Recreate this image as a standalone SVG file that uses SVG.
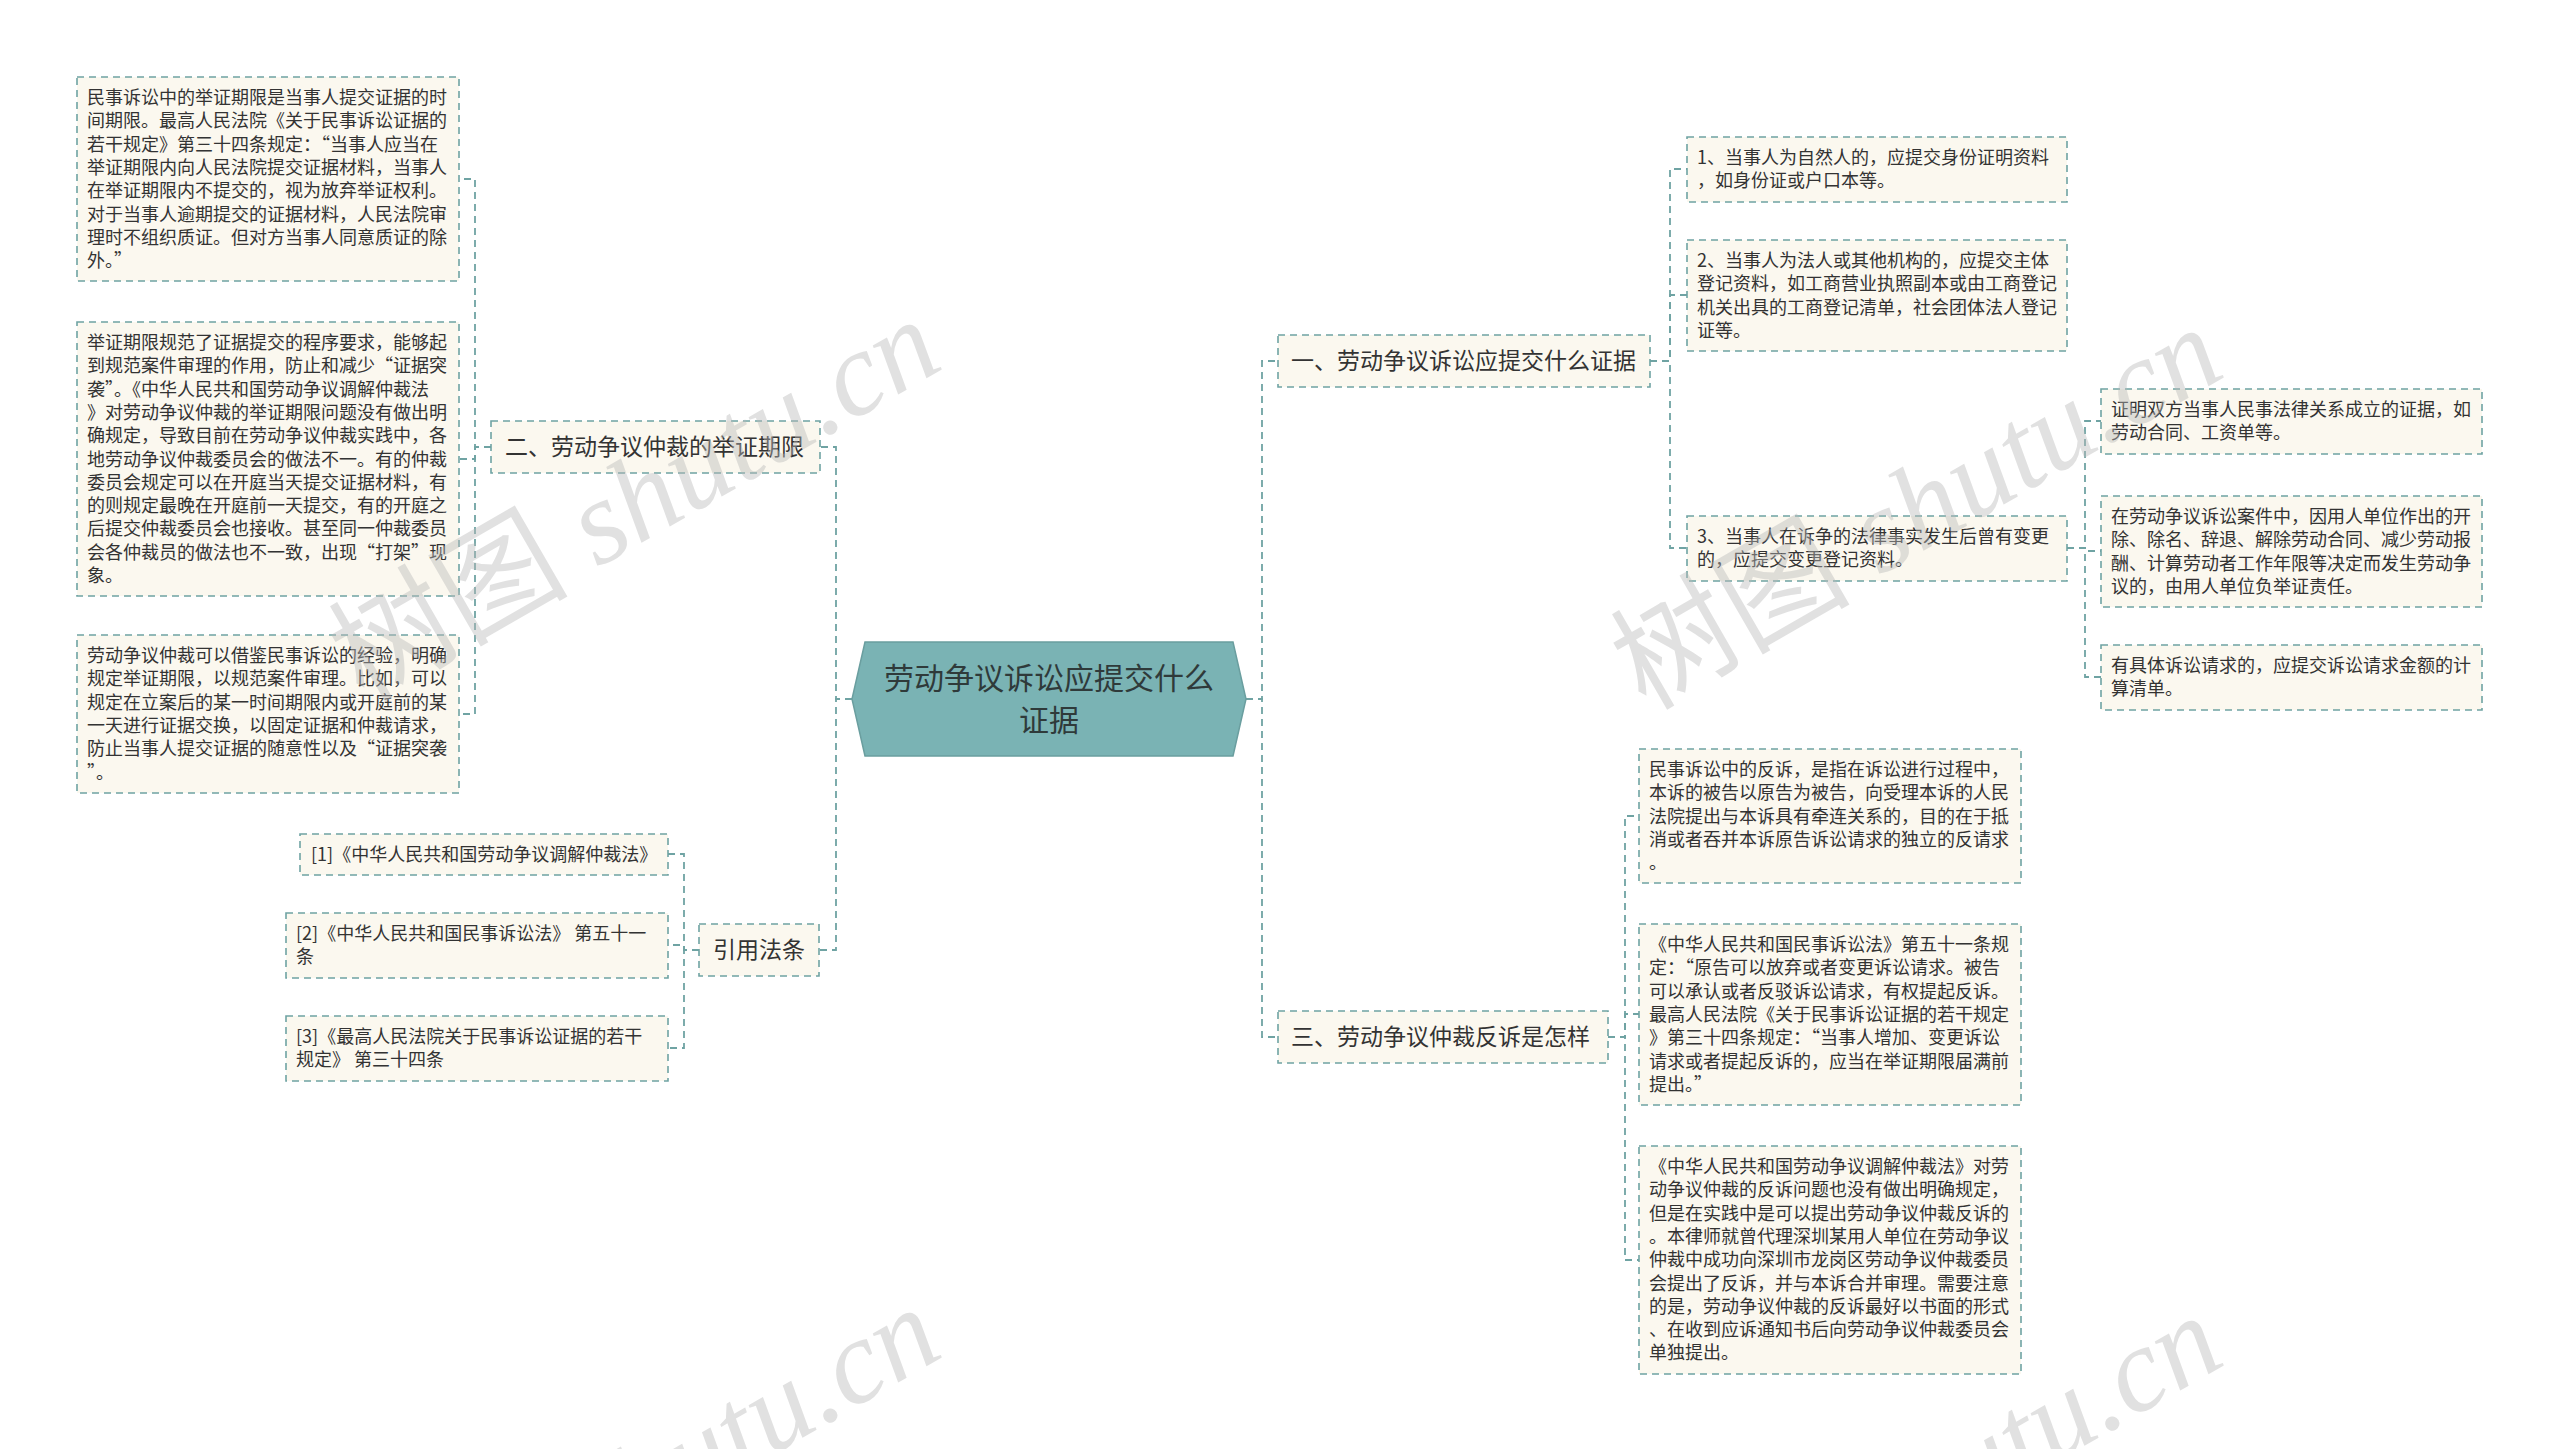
<svg xmlns="http://www.w3.org/2000/svg" width="2560" height="1449" viewBox="0 0 2560 1449">
<style>
.box{fill:#FBF8EF;stroke:#6FA3A3;stroke-width:1.6;stroke-dasharray:7 5}
.conn{fill:none;stroke:#6FA3A3;stroke-width:1.8;stroke-dasharray:7 5}
.t{font-family:"Noto Sans CJK SC","Microsoft YaHei",sans-serif;font-size:18px;fill:#333}
.b{font-size:23px}
.c{font-size:30px;text-anchor:middle;fill:#2F3A3A}
.wm{fill:#B8B8B8;opacity:0.42;font-size:120px}
</style>
<rect width="2560" height="1449" fill="#FFFFFF"/>

<g id="connectors">
<path class="conn" d="M852 699 H836 V447 H820"/>
<path class="conn" d="M852 699 H836 V950 H819"/>
<path class="conn" d="M1246 699 H1262 V361 H1278"/>
<path class="conn" d="M1246 699 H1262 V1037 H1278"/>
<path class="conn" d="M491 447 H475 V179 H459"/>
<path class="conn" d="M491 447 H475 V459 H459"/>
<path class="conn" d="M491 447 H475 V714 H459"/>
<path class="conn" d="M699 950 H684 V854 H668"/>
<path class="conn" d="M699 950 H684 V945 H668"/>
<path class="conn" d="M699 950 H684 V1048 H668"/>
<path class="conn" d="M1650 361 H1670 V169 H1687"/>
<path class="conn" d="M1650 361 H1670 V295 H1687"/>
<path class="conn" d="M1650 361 H1670 V548 H1687"/>
<path class="conn" d="M2067 548 H2085 V421 H2101"/>
<path class="conn" d="M2067 548 H2085 V551 H2101"/>
<path class="conn" d="M2067 548 H2085 V677 H2101"/>
<path class="conn" d="M1608 1037 H1625 V816 H1639"/>
<path class="conn" d="M1608 1037 H1625 V1014 H1639"/>
<path class="conn" d="M1608 1037 H1625 V1260 H1639"/>
</g>

<g id="center">
<polygon points="865,642 1233,642 1246,699 1233,756 865,756 852,699" fill="#7AB3B4" stroke="#6A9E9F" stroke-width="1.5"/>
<text class="t c" x="1049" y="689">劳动争议诉讼应提交什么</text>
<text class="t c" x="1049" y="731">证据</text>
</g>

<g id="branch2">
<rect class="box" x="491" y="421" width="329" height="52"/>
<text class="t b" x="505" y="455">二、劳动争议仲裁的举证期限</text>
</g>
<g id="branchRef">
<rect class="box" x="699" y="924" width="120" height="52"/>
<text class="t b" x="713" y="958">引用法条</text>
</g>
<g id="branch1">
<rect class="box" x="1278" y="335" width="372" height="52"/>
<text class="t b" x="1291" y="369">一、劳动争议诉讼应提交什么证据</text>
</g>
<g id="branch3">
<rect class="box" x="1278" y="1011" width="330" height="52"/>
<text class="t b" x="1291" y="1045">三、劳动争议仲裁反诉是怎样</text>
</g>

<g id="L1">
<rect class="box" x="77" y="77" width="382" height="204"/>
<text class="t" x="87" y="104">民事诉讼中的举证期限是当事人提交证据的时</text>
<text class="t" x="87" y="127.3">间期限。最高人民法院《关于民事诉讼证据的</text>
<text class="t" x="87" y="150.6">若干规定》第三十四条规定：“当事人应当在</text>
<text class="t" x="87" y="173.9">举证期限内向人民法院提交证据材料，当事人</text>
<text class="t" x="87" y="197.2">在举证期限内不提交的，视为放弃举证权利。</text>
<text class="t" x="87" y="220.5">对于当事人逾期提交的证据材料，人民法院审</text>
<text class="t" x="87" y="243.8">理时不组织质证。但对方当事人同意质证的除</text>
<text class="t" x="87" y="267.1">外。”</text>
</g>

<g id="L2">
<rect class="box" x="77" y="322" width="382" height="274"/>
<text class="t" x="87" y="349">举证期限规范了证据提交的程序要求，能够起</text>
<text class="t" x="87" y="372.3">到规范案件审理的作用，防止和减少“证据突</text>
<text class="t" x="87" y="395.6">袭”。《中华人民共和国劳动争议调解仲裁法</text>
<text class="t" x="87" y="418.9">》对劳动争议仲裁的举证期限问题没有做出明</text>
<text class="t" x="87" y="442.2">确规定，导致目前在劳动争议仲裁实践中，各</text>
<text class="t" x="87" y="465.5">地劳动争议仲裁委员会的做法不一。有的仲裁</text>
<text class="t" x="87" y="488.8">委员会规定可以在开庭当天提交证据材料，有</text>
<text class="t" x="87" y="512.1">的则规定最晚在开庭前一天提交，有的开庭之</text>
<text class="t" x="87" y="535.4">后提交仲裁委员会也接收。甚至同一仲裁委员</text>
<text class="t" x="87" y="558.7">会各仲裁员的做法也不一致，出现“打架”现</text>
<text class="t" x="87" y="582">象。</text>
</g>

<g id="L3">
<rect class="box" x="77" y="635" width="382" height="158"/>
<text class="t" x="87" y="662">劳动争议仲裁可以借鉴民事诉讼的经验，明确</text>
<text class="t" x="87" y="685.3">规定举证期限，以规范案件审理。比如，可以</text>
<text class="t" x="87" y="708.6">规定在立案后的某一时间期限内或开庭前的某</text>
<text class="t" x="87" y="731.9">一天进行证据交换，以固定证据和仲裁请求，</text>
<text class="t" x="87" y="755.2">防止当事人提交证据的随意性以及“证据突袭</text>
<text class="t" x="87" y="778.5">”。</text>
</g>

<g id="R1">
<rect class="box" x="300" y="834" width="368" height="41"/>
<text class="t" x="311" y="861">[1]《中华人民共和国劳动争议调解仲裁法》</text>
</g>
<g id="R2">
<rect class="box" x="286" y="913" width="382" height="65"/>
<text class="t" x="296" y="940">[2]《中华人民共和国民事诉讼法》 第五十一</text>
<text class="t" x="296" y="963.3">条</text>
</g>
<g id="R3">
<rect class="box" x="286" y="1016" width="382" height="65"/>
<text class="t" x="296" y="1043">[3]《最高人民法院关于民事诉讼证据的若干</text>
<text class="t" x="296" y="1066.3">规定》 第三十四条</text>
</g>

<g id="C1">
<rect class="box" x="1687" y="137" width="380" height="65"/>
<text class="t" x="1697" y="164">1、当事人为自然人的，应提交身份证明资料</text>
<text class="t" x="1697" y="187.3">，如身份证或户口本等。</text>
</g>
<g id="C2">
<rect class="box" x="1687" y="240" width="380" height="111"/>
<text class="t" x="1697" y="267">2、当事人为法人或其他机构的，应提交主体</text>
<text class="t" x="1697" y="290.3">登记资料，如工商营业执照副本或由工商登记</text>
<text class="t" x="1697" y="313.6">机关出具的工商登记清单，社会团体法人登记</text>
<text class="t" x="1697" y="336.9">证等。</text>
</g>
<g id="C3">
<rect class="box" x="1687" y="516" width="380" height="65"/>
<text class="t" x="1697" y="543">3、当事人在诉争的法律事实发生后曾有变更</text>
<text class="t" x="1697" y="566.3">的，应提交变更登记资料。</text>
</g>

<g id="D1">
<rect class="box" x="2101" y="389" width="381" height="65"/>
<text class="t" x="2111" y="416">证明双方当事人民事法律关系成立的证据，如</text>
<text class="t" x="2111" y="439.3">劳动合同、工资单等。</text>
</g>
<g id="D2">
<rect class="box" x="2101" y="496" width="381" height="111"/>
<text class="t" x="2111" y="523">在劳动争议诉讼案件中，因用人单位作出的开</text>
<text class="t" x="2111" y="546.3">除、除名、辞退、解除劳动合同、减少劳动报</text>
<text class="t" x="2111" y="569.6">酬、计算劳动者工作年限等决定而发生劳动争</text>
<text class="t" x="2111" y="592.9">议的，由用人单位负举证责任。</text>
</g>
<g id="D3">
<rect class="box" x="2101" y="645" width="381" height="65"/>
<text class="t" x="2111" y="672">有具体诉讼请求的，应提交诉讼请求金额的计</text>
<text class="t" x="2111" y="695.3">算清单。</text>
</g>

<g id="E1">
<rect class="box" x="1639" y="749" width="382" height="134"/>
<text class="t" x="1649" y="776">民事诉讼中的反诉，是指在诉讼进行过程中，</text>
<text class="t" x="1649" y="799.3">本诉的被告以原告为被告，向受理本诉的人民</text>
<text class="t" x="1649" y="822.6">法院提出与本诉具有牵连关系的，目的在于抵</text>
<text class="t" x="1649" y="845.9">消或者吞并本诉原告诉讼请求的独立的反请求</text>
<text class="t" x="1649" y="869.2">。</text>
</g>
<g id="E2">
<rect class="box" x="1639" y="924" width="382" height="181"/>
<text class="t" x="1649" y="951">《中华人民共和国民事诉讼法》第五十一条规</text>
<text class="t" x="1649" y="974.3">定：“原告可以放弃或者变更诉讼请求。被告</text>
<text class="t" x="1649" y="997.6">可以承认或者反驳诉讼请求，有权提起反诉。</text>
<text class="t" x="1649" y="1020.9">最高人民法院《关于民事诉讼证据的若干规定</text>
<text class="t" x="1649" y="1044.2">》第三十四条规定：“当事人增加、变更诉讼</text>
<text class="t" x="1649" y="1067.5">请求或者提起反诉的，应当在举证期限届满前</text>
<text class="t" x="1649" y="1090.8">提出。”</text>
</g>
<g id="E3">
<rect class="box" x="1639" y="1146" width="382" height="228"/>
<text class="t" x="1649" y="1173">《中华人民共和国劳动争议调解仲裁法》对劳</text>
<text class="t" x="1649" y="1196.3">动争议仲裁的反诉问题也没有做出明确规定，</text>
<text class="t" x="1649" y="1219.6">但是在实践中是可以提出劳动争议仲裁反诉的</text>
<text class="t" x="1649" y="1242.9">。本律师就曾代理深圳某用人单位在劳动争议</text>
<text class="t" x="1649" y="1266.2">仲裁中成功向深圳市龙岗区劳动争议仲裁委员</text>
<text class="t" x="1649" y="1289.5">会提出了反诉，并与本诉合并审理。需要注意</text>
<text class="t" x="1649" y="1312.8">的是，劳动争议仲裁的反诉最好以书面的形式</text>
<text class="t" x="1649" y="1336.1">、在收到应诉通知书后向劳动争议仲裁委员会</text>
<text class="t" x="1649" y="1359.4">单独提出。</text>
</g>

<g id="watermarks">
<text class="wm" text-anchor="middle" transform="translate(655,535) rotate(-30)"><tspan font-family="Noto Sans CJK SC,sans-serif">树图</tspan><tspan font-family="Liberation Serif,serif" font-style="italic"> shutu.cn</tspan></text>
<text class="wm" text-anchor="middle" transform="translate(1937,543) rotate(-30)"><tspan font-family="Noto Sans CJK SC,sans-serif">树图</tspan><tspan font-family="Liberation Serif,serif" font-style="italic"> shutu.cn</tspan></text>
<text class="wm" text-anchor="middle" transform="translate(655,1523) rotate(-30)"><tspan font-family="Noto Sans CJK SC,sans-serif">树图</tspan><tspan font-family="Liberation Serif,serif" font-style="italic"> shutu.cn</tspan></text>
<text class="wm" text-anchor="middle" transform="translate(1937,1531) rotate(-30)"><tspan font-family="Noto Sans CJK SC,sans-serif">树图</tspan><tspan font-family="Liberation Serif,serif" font-style="italic"> shutu.cn</tspan></text>
</g>
</svg>
